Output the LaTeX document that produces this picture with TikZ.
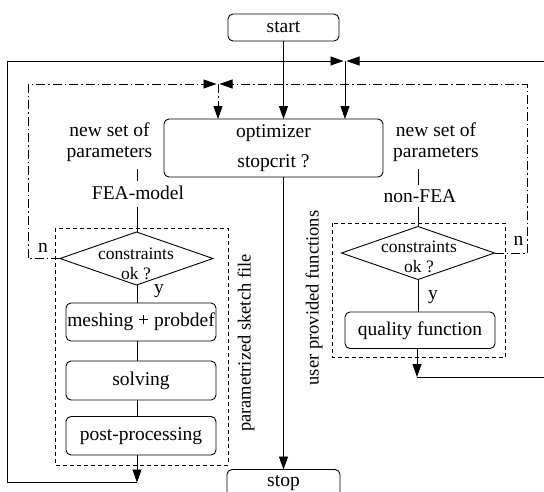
\documentclass[tikz,border=0pt]{standalone}
\usepackage{fontspec}
\setmainfont{Liberation Serif}
\usetikzlibrary{shapes.geometric,arrows.meta}
\begin{document}
\begin{tikzpicture}[x=1pt,y=-1pt,line width=0.9pt,
  every node/.style={inner sep=0pt,outer sep=0pt,font=\fontsize{19.5}{21}\selectfont},
  rbox/.style={draw,rounded corners=5pt,minimum width=150pt},
  cond/.style={draw,diamond,minimum width=153pt,minimum height=53pt},
  dtxt/.style={font=\fontsize{17.5}{20}\selectfont,anchor=base},
  btxt/.style={anchor=base},
  side/.style={font=\fontsize{18.5}{20}\selectfont,rotate=90},
  group/.style={draw,dash pattern=on 4pt off 3pt,line width=0.8pt},
  loopline/.style={dash pattern=on 9pt off 3pt on 1.5pt off 3pt,line width=0.8pt},
  arr/.style={-{Triangle[length=13pt,width=9pt]}}]
\useasboundingbox (0,0) rectangle (544,491);

% groups
\draw[group] (55,228) rectangle (228,465);
\draw[group] (332,223) rectangle (505,357.5);

% nodes
\node[rbox,minimum width=111pt,minimum height=27pt] (start) at (283.5,27.5) {start};
\node[rbox,minimum width=219pt,minimum height=58pt,align=center,font=\fontsize{19.5}{30}\selectfont] (opt) at (273.5,148) {optimizer\\stopcrit ?};
\node[rbox,minimum width=113pt,minimum height=27pt] (stop) at (283.5,483) {stop};

\node[btxt] (nsl) at (109.5,136) {new set of};
\node[btxt] (pal) at (109.5,157) {parameters};
\node[btxt] (nsr) at (436,136) {new set of};
\node[btxt] (par) at (436,157) {parameters};
\coordinate (pl) at (137,169);
\coordinate (pr) at (418,169);
\node[btxt] (fea) at (138,199) {FEA-model};
\node[btxt] (nfea) at (420,202) {non-FEA};

\node[cond] (dl) at (136.5,258.5) {};
\node[cond] (dr) at (418,253) {};
\node[dtxt] (cl1) at (136,259) {constraints};
\node[dtxt] (cl2) at (136,279) {ok ?};
\node[dtxt] (cr1) at (419,252) {constraints};
\node[dtxt] (cr2) at (419,272) {ok ?};

\node[rbox,minimum height=38pt] (mesh) at (141,322) {meshing + probdef};
\node[rbox,minimum height=39pt] (solv) at (141,380.5) {solving};
\node[rbox,minimum height=38.5pt] (post) at (141,435.75) {post-processing};
\node[rbox,minimum height=36.5pt] (qual) at (420,330.25) {quality function};

\node[btxt] (nl) at (43,252) {n};
\node[btxt] (nr) at (518.5,245) {n};
\node[btxt] (yl) at (159,293) {y};
\node[btxt] (yr) at (433,299) {y};

\node[side] (psk) at (246,343) {parametrized sketch file};
\node[side] (upf) at (314,298) {user provided functions};

% coordinates for loops
\coordinate (topS) at (345,61);
\coordinate (topD) at (218,84);
\coordinate (lcor) at (137,482.5);
\coordinate (rcor) at (417,377);

% connectors
\draw[arr] (start) -- (start |- opt.north);
\draw[arr] (opt.south -| stop) -- (stop);
\draw[shorten >=4pt] (pl) -- (pl |- fea.north);
\draw[shorten <=8pt] (pl |- fea.south) -- (dl.north -| pl);
\draw[shorten >=4pt] (pr) -- (pr |- nfea.north);
\draw[shorten <=5pt] (pr |- nfea.south) -- (dr.north);
\draw (dl.south -| pl) -- (mesh.north -| pl);
\draw (mesh.south -| pl) -- (solv.north -| pl);
\draw (solv.south -| pl) -- (post.north -| pl);
\draw (dr.south) -- (qual.north -| dr.south);

% solid loops
\draw[arr] (post.south -| pl) -- (lcor);
\draw[arr] (lcor) -- (7,482.5) -- (7,61) -- ([xshift=-1.5pt]topS);
\draw[arr] (qual.south -| rcor) -- (rcor);
\draw[arr] (rcor) -- (560,377) -- (560,61) -- ([xshift=1.5pt]topS);
\draw[arr] (topS) -- (topS |- opt.north);

% dash-dot loops
\draw[loopline,arr] (dl.west) -- (28,258.5) -- (28,84) -- ([xshift=-1.5pt]topD);
\draw[loopline,arr] (dr.east) -- (527,253) -- (527,84) -- ([xshift=1.5pt]topD);
\draw[loopline,arr] (topD) -- (topD |- opt.north);
\end{tikzpicture}
\end{document}
